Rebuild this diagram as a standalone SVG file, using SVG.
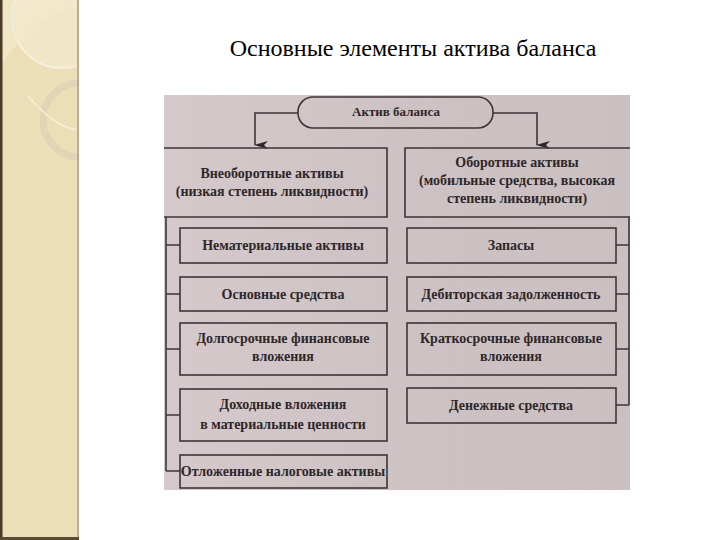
<svg xmlns="http://www.w3.org/2000/svg" width="720" height="540" viewBox="0 0 720 540">
<style>
.t{font-family:"Liberation Serif","DejaVu Serif",serif;font-size:14px;font-weight:bold;fill:#2e2729;text-anchor:middle}
.box{fill:none;stroke:#3d3537;stroke-width:1.6}
.ln{fill:none;stroke:#3d3537;stroke-width:1.6}
.title{font-family:"Liberation Serif","Times New Roman",serif;font-size:24px;fill:#000}
</style>
<defs>
<marker id="ah" viewBox="0 0 8 14" refX="4" refY="13" markerWidth="8" markerHeight="14" markerUnits="userSpaceOnUse" orient="auto-start-reverse">
<path d="M0,0 L4,14 L8,0 L4,4 Z" fill="#2e2729"/>
</marker>
<linearGradient id="bg" x1="0" y1="0" x2="1" y2="0">
<stop offset="0" stop-color="#d5c9cb"/>
<stop offset="0.5" stop-color="#cdc2c4"/>
<stop offset="1" stop-color="#cac0c2"/>
</linearGradient>
<clipPath id="sb"><rect x="0" y="0" width="78" height="540"/></clipPath>
</defs>
<rect width="720" height="540" fill="#fff"/>
<g id="sidebar">
<rect x="0" y="0" width="79" height="540" fill="#ecdeb6"/>
<g clip-path="url(#sb)">
<circle cx="62" cy="18" r="50" fill="#f1e6c7" stroke="#f6eedb" stroke-width="2.5"/>
<path d="M0 0 H79 V6 Q40 10 0 66 Z" fill="#f3eacf" opacity="0.6"/>
<circle cx="80" cy="120" r="37" fill="none" stroke="#e1d5b6" stroke-width="7"/>
<path d="M28 96 Q55 128 79 130" fill="none" stroke="#f6eed8" stroke-width="1.6"/>
</g>
<rect x="0" y="0" width="2.5" height="540" fill="#4b3a26"/>
<rect x="77" y="0" width="2" height="540" fill="#bcab9c"/>
<rect x="0" y="537" width="79" height="3" fill="#5a4a35"/>
</g>
<text class="title" x="413" y="56" text-anchor="middle">Основные элементы актива баланса</text>
<rect x="164" y="95" width="466" height="395" fill="url(#bg)"/>
<g id="connectors">
<path class="ln" d="M298 113 H255 V145" marker-end="url(#ah)"/>
<path class="ln" d="M493 113 H537 V145" marker-end="url(#ah)"/>
<path class="ln" d="M166 217 V471"/>
<path class="ln" d="M166 245 H180 M166 294 H180 M166 349 H180 M166 415 H180 M166 471 H180"/>
<path class="ln" d="M629 217 V405"/>
<path class="ln" d="M616 245 H629 M616 294 H629 M616 349 H629 M616 405 H629"/>
</g>
<g id="root">
<rect class="box" x="298" y="97" width="195" height="31" rx="15"/>
<text class="t" x="396" y="116" style="font-size:13px">Актив баланса</text>
</g>
<g id="noncurrent">
<path class="box" d="M164 148 H387 V217 H164"/>
<text class="t" x="272" y="178">Внеоборотные активы</text>
<text class="t" x="272" y="196">(низкая степень ликвидности)</text>
</g>
<g id="current">
<path class="box" d="M630 148 H405 V217 H630"/>
<text class="t" x="517" y="167">Оборотные активы</text>
<text class="t" x="517" y="185">(мобильные средства, высокая</text>
<text class="t" x="517" y="203">степень ликвидности)</text>
</g>
<g id="l1"><rect class="box" x="180" y="228" width="207" height="35"/><text class="t" x="283" y="250">Нематериальные активы</text></g>
<g id="l2"><rect class="box" x="180" y="277" width="207" height="34"/><text class="t" x="283" y="299">Основные средства</text></g>
<g id="l3"><rect class="box" x="180" y="323" width="207" height="52"/><text class="t" x="283" y="343">Долгосрочные финансовые</text><text class="t" x="283" y="361">вложения</text></g>
<g id="l4"><rect class="box" x="180" y="389" width="207" height="52"/><text class="t" x="283" y="409">Доходные вложения</text><text class="t" x="283" y="429">в материальные ценности</text></g>
<g id="l5"><rect class="box" x="180" y="455" width="207" height="33"/><text class="t" x="283" y="476">Отложенные налоговые активы</text></g>
<g id="r1"><rect class="box" x="407" y="228" width="209" height="35"/><text class="t" x="511" y="250">Запасы</text></g>
<g id="r2"><rect class="box" x="407" y="277" width="209" height="34"/><text class="t" x="511" y="299">Дебиторская задолженность</text></g>
<g id="r3"><rect class="box" x="407" y="323" width="209" height="52"/><text class="t" x="511" y="343">Краткосрочные финансовые</text><text class="t" x="511" y="361">вложения</text></g>
<g id="r4"><rect class="box" x="407" y="388" width="209" height="35"/><text class="t" x="511" y="410">Денежные средства</text></g>
</svg>
